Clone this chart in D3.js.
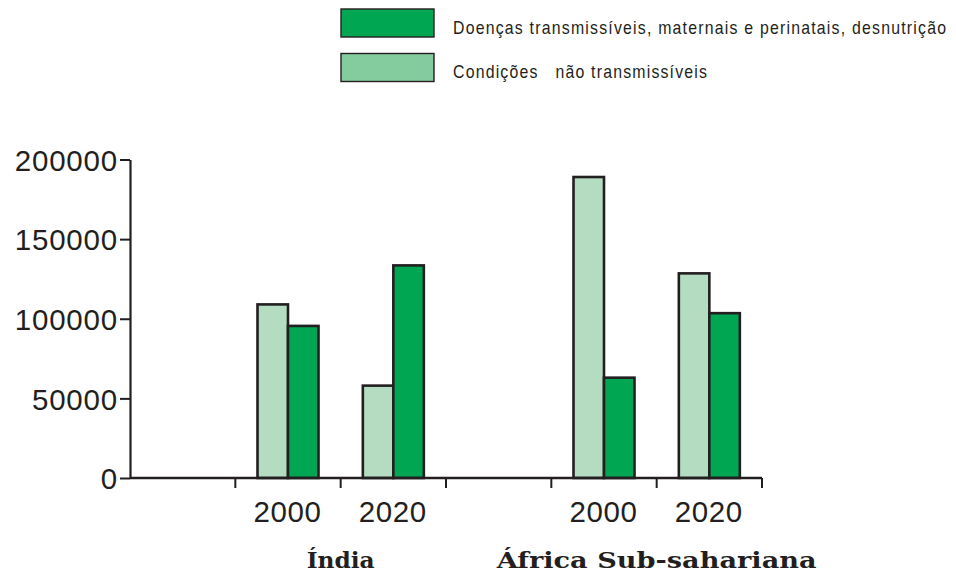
<!DOCTYPE html>
<html>
<head>
<meta charset="utf-8">
<script src="https://cdn.jsdelivr.net/npm/d3@7"></script>
<style>
  html, body { margin: 0; padding: 0; background: #ffffff; }
  svg { display: block; }
</style>
</head>
<body>
<svg id="chart" width="956" height="577"></svg>
<script>
// Regions, years and the two cause groups
const regions = ["Índia", "África Sub-sahariana"];
const years = ["2000", "2020"];
const seriesNames = [
  "Doenças transmissíveis, maternais e perinatais, desnutrição",
  "Condições   não transmissíveis"
];
// Values per bar, in order: Índia 2000, Índia 2020, África 2000, África 2020
const naoTransmissiveis = [109000, 58000, 189000, 128500];
const transmissiveis = [95500, 133500, 63000, 103500];
const yTicks = [0, 50000, 100000, 150000, 200000];

const ink = "#231f20";
const darkGreen = "#00a651";
const lightBar = "#b4dcc1";
const lightKey = "#84cc9e";
const numberFont = "'Liberation Sans', Arial, Helvetica, sans-serif";

const svg = d3.select("#chart");

// Each region gets an empty slot followed by one slot per year
const slots = [];
regions.forEach(r => {
  slots.push(r + "|");
  years.forEach(y => slots.push(r + "|" + y));
});

const x0 = d3.scaleBand().domain(slots).range([130, 762]).padding(0);
const x1 = d3.scaleBand().domain(["nt", "t"]).range([0, 61]).padding(0);
const y = d3.scaleLinear().domain([0, 200000]).range([478, 159.5]);

// Rows of bar data
const rows = [];
regions.forEach((r, ri) => {
  years.forEach((yr, yi) => {
    const i = ri * years.length + yi;
    rows.push({ slot: r + "|" + yr, year: yr, nt: naoTransmissiveis[i], t: transmissiveis[i] });
  });
});

const groupOffset = (x0.bandwidth() - 61) / 2;

const groups = svg.append("g").selectAll("g")
  .data(rows)
  .join("g")
  .attr("transform", d => `translate(${x0(d.slot) + groupOffset},0)`);

groups.selectAll("rect")
  .data(d => [{ key: "nt", v: d.nt }, { key: "t", v: d.t }])
  .join("rect")
  .attr("x", d => x1(d.key))
  .attr("y", d => y(d.v))
  .attr("width", x1.bandwidth())
  .attr("height", d => y(0) - y(d.v))
  .attr("fill", d => d.key === "nt" ? lightBar : darkGreen)
  .attr("stroke", ink)
  .attr("stroke-width", 2.6);

// Vertical axis
const yAxis = d3.axisLeft(y)
  .tickValues(yTicks)
  .tickFormat(d3.format("d"))
  .tickSize(10)
  .tickSizeOuter(0)
  .tickPadding(2);

const gy = svg.append("g").attr("transform", "translate(130,0)").call(yAxis);
gy.attr("font-family", null).attr("font-size", null);
gy.select(".domain").attr("stroke", ink).attr("stroke-width", 2.2);
gy.selectAll(".tick line").attr("stroke", ink).attr("stroke-width", 2);
gy.selectAll(".tick text")
  .attr("fill", ink)
  .attr("font-family", numberFont)
  .attr("font-size", 29.5)
  .attr("letter-spacing", "0.8")
  .attr("dy", "0.36em");

// Horizontal axis with ticks at slot boundaries
const gx = svg.append("g");
gx.append("line")
  .attr("x1", x0.range()[0]).attr("x2", x0.range()[1])
  .attr("y1", y(0)).attr("y2", y(0))
  .attr("stroke", ink).attr("stroke-width", 2.4);
gx.selectAll(".xtick")
  .data(slots)
  .join("line")
  .attr("class", "xtick")
  .attr("x1", d => x0(d) + x0.bandwidth())
  .attr("x2", d => x0(d) + x0.bandwidth())
  .attr("y1", y(0)).attr("y2", y(0) + 10)
  .attr("stroke", ink).attr("stroke-width", 2);

// Year labels under each bar pair
svg.append("g").selectAll("text")
  .data(rows)
  .join("text")
  .attr("x", d => x0(d.slot) + groupOffset + 30)
  .attr("y", 522)
  .attr("text-anchor", "middle")
  .attr("fill", ink)
  .attr("font-family", numberFont)
  .attr("font-size", 29.5)
  .attr("letter-spacing", "0.6")
  .text(d => d.year);

// Region labels centred on the boundary between the two years
const regionWidths = [68, 320];
svg.append("g").selectAll("text")
  .data(regions)
  .join("text")
  .attr("x", r => x0(r + "|" + years[0]) + x0.bandwidth())
  .attr("y", 568)
  .attr("text-anchor", "middle")
  .attr("fill", ink)
  .attr("font-family", "'DejaVu Serif', 'Liberation Serif', serif")
  .attr("font-weight", "bold")
  .attr("font-size", 23)
  .attr("textLength", (r, i) => regionWidths[i])
  .attr("lengthAdjust", "spacingAndGlyphs")
  .text(r => r);

// Legend: condensed labels next to outlined swatches
const legendColors = [darkGreen, lightKey];
const legendWidths = [493, 254];
const squeeze = 0.88;
const legend = svg.append("g").selectAll("g")
  .data(seriesNames)
  .join("g")
  .attr("transform", (d, i) => `translate(341,${9 + i * 44.5})`);
legend.append("rect")
  .attr("width", 93).attr("height", 28)
  .attr("fill", (d, i) => legendColors[i])
  .attr("stroke", ink).attr("stroke-width", 1.4);
legend.append("text")
  .attr("transform", `translate(112,24.5) scale(${squeeze},1)`)
  .attr("fill", ink)
  .attr("xml:space", "preserve")
  .style("white-space", "pre")
  .attr("font-family", "'Liberation Sans', Arial, sans-serif")
  .attr("font-size", 18)
  .attr("textLength", (d, i) => legendWidths[i] / squeeze)
  .attr("lengthAdjust", "spacing")
  .text(d => d);
</script>
</body>
</html>
